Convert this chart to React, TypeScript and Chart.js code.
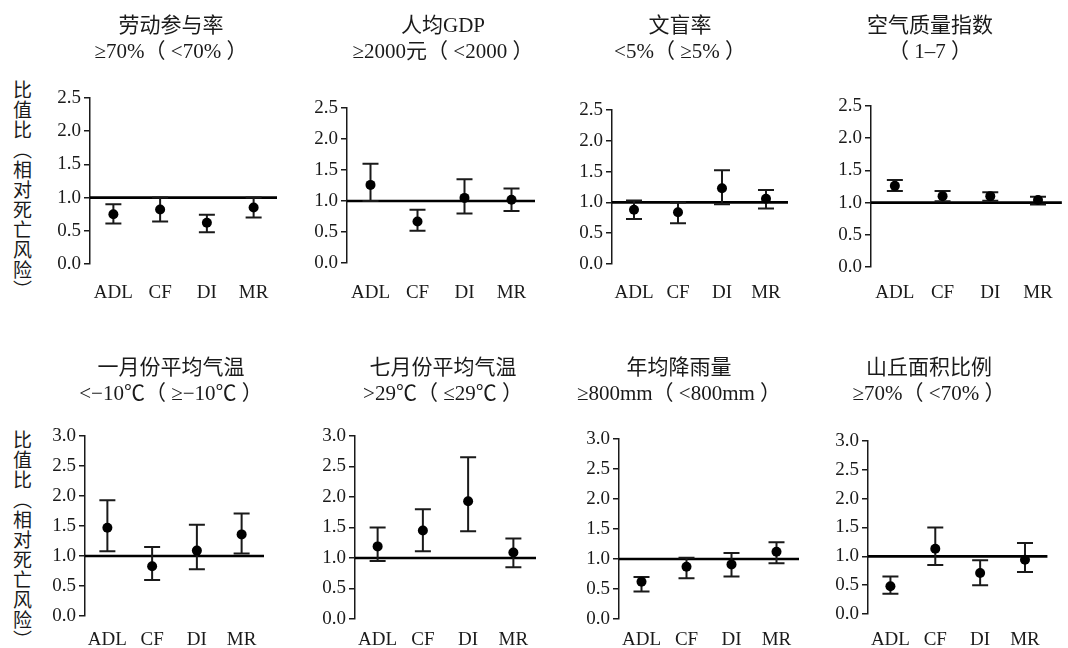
import React, { useEffect, useRef } from "react";
import { Chart, registerables } from "chart.js";

Chart.register(...registerables);

// ---------- data ----------
const CATEGORIES = ["ADL", "CF", "DI", "MR"];
const Y_LABEL = "比值比（相对死亡风险）";
const TOP_ROW_MAX = 2.5;
const BOTTOM_ROW_MAX = 3.0;
const TICK_STEP = 0.5;
const REFERENCE_VALUE = 1.0;

const laborTitle = ["劳动参与率", "≥70%（ <70% ）"];
const laborOR = [0.75, 0.82, 0.62, 0.85];
const laborLo = [0.61, 0.64, 0.48, 0.70];
const laborHi = [0.90, 1.00, 0.74, 1.00];

const gdpTitle = ["人均GDP", "≥2000元（ <2000 ）"];
const gdpOR = [1.26, 0.67, 1.05, 1.02];
const gdpLo = [1.00, 0.52, 0.80, 0.84];
const gdpHi = [1.60, 0.86, 1.35, 1.20];

const illiteracyTitle = ["文盲率", "<5%（ ≥5% ）"];
const illiteracyOR = [0.88, 0.84, 1.23, 1.06];
const illiteracyLo = [0.73, 0.66, 0.97, 0.90];
const illiteracyHi = [1.03, 1.00, 1.52, 1.20];

const airTitle = ["空气质量指数", "（ 1–7 ）"];
const airOR = [1.26, 1.10, 1.10, 1.04];
const airLo = [1.18, 1.02, 1.03, 0.97];
const airHi = [1.35, 1.18, 1.16, 1.09];

const janTitle = ["一月份平均气温", "<−10℃（ ≥−10℃ ）"];
const janOR = [1.47, 0.83, 1.09, 1.36];
const janLo = [1.08, 0.60, 0.78, 1.04];
const janHi = [1.93, 1.15, 1.52, 1.71];

const julTitle = ["七月份平均气温", ">29℃（ ≤29℃ ）"];
const julOR = [1.19, 1.45, 1.93, 1.09];
const julLo = [0.95, 1.11, 1.44, 0.85];
const julHi = [1.50, 1.80, 2.65, 1.32];

const rainTitle = ["年均降雨量", "≥800mm（ <800mm ）"];
const rainOR = [0.62, 0.87, 0.91, 1.12];
const rainLo = [0.46, 0.68, 0.71, 0.93];
const rainHi = [0.70, 1.02, 1.10, 1.28];

const hillTitle = ["山丘面积比例", "≥70%（ <70% ）"];
const hillOR = [0.48, 1.13, 0.71, 0.94];
const hillLo = [0.35, 0.85, 0.50, 0.73];
const hillHi = [0.65, 1.50, 0.93, 1.23];

const PANELS = [
  { title: laborTitle, or: laborOR, lo: laborLo, hi: laborHi, max: TOP_ROW_MAX },
  { title: gdpTitle, or: gdpOR, lo: gdpLo, hi: gdpHi, max: TOP_ROW_MAX },
  { title: illiteracyTitle, or: illiteracyOR, lo: illiteracyLo, hi: illiteracyHi, max: TOP_ROW_MAX },
  { title: airTitle, or: airOR, lo: airLo, hi: airHi, max: TOP_ROW_MAX },
  { title: janTitle, or: janOR, lo: janLo, hi: janHi, max: BOTTOM_ROW_MAX },
  { title: julTitle, or: julOR, lo: julLo, hi: julHi, max: BOTTOM_ROW_MAX },
  { title: rainTitle, or: rainOR, lo: rainLo, hi: rainHi, max: BOTTOM_ROW_MAX },
  { title: hillTitle, or: hillOR, lo: hillLo, hi: hillHi, max: BOTTOM_ROW_MAX },
];

// ---------- layout (pixel geometry of each panel) ----------
const LAYOUT = [
  { left: 90, right: 277, top: 98, bottom: 264, titleX: 171, rowTop: 0, title1Y: 26, labelY: 293 },
  { left: 347, right: 535, top: 108, bottom: 263, titleX: 443, rowTop: 0, title1Y: 26, labelY: 293 },
  { left: 612, right: 799, top: 110, bottom: 264, titleX: 680, rowTop: 0, title1Y: 26, labelY: 293 },
  { left: 871, right: 1068, top: 106, bottom: 267, titleX: 930, rowTop: 0, title1Y: 26, labelY: 293 },
  { left: 85, right: 264, top: 436, bottom: 616, titleX: 171, rowTop: 330, title1Y: 368, labelY: 640 },
  { left: 355, right: 536, top: 436, bottom: 619, titleX: 443, rowTop: 330, title1Y: 368, labelY: 640 },
  { left: 619, right: 804, top: 439, bottom: 619, titleX: 679, rowTop: 330, title1Y: 368, labelY: 640 },
  { left: 868, right: 1055, top: 441, bottom: 614, titleX: 929, rowTop: 330, title1Y: 368, labelY: 640 },
];

const INK = "#1a1a1a";
const SERIF = "'Liberation Serif', 'Noto Sans CJK SC', serif";
const TITLE_SIZE = 21;
const TITLE_LH = 1.25;
const TICK_SIZE = 19;
const XH = 40;
const MIN_YW = 44;

const errorBarPlugin = {
  id: "errorBars",
  beforeDatasetsDraw(chart: any) {
    const { ctx, chartArea, scales } = chart;
    const xs = scales.x;
    const ys = scales.y;
    ctx.save();
    // reference line at OR = 1
    const yRef = ys.getPixelForValue(REFERENCE_VALUE);
    ctx.strokeStyle = "#000";
    ctx.lineWidth = 2.6;
    ctx.beginPath();
    ctx.moveTo(chartArea.left, yRef);
    ctx.lineTo(chartArea.right, yRef);
    ctx.stroke();
    // 95% CI whiskers
    const ds = chart.data.datasets[0];
    ctx.strokeStyle = INK;
    ctx.lineWidth = 2;
    const cap = 8;
    for (let i = 0; i < ds.data.length; i++) {
      const x = xs.getPixelForValue(i);
      const yl = ys.getPixelForValue(ds.lower[i]);
      const yh = ys.getPixelForValue(ds.upper[i]);
      ctx.beginPath();
      ctx.moveTo(x, yl);
      ctx.lineTo(x, yh);
      ctx.moveTo(x - cap, yh);
      ctx.lineTo(x + cap, yh);
      ctx.moveTo(x - cap, yl);
      ctx.lineTo(x + cap, yl);
      ctx.stroke();
    }
    ctx.restore();
  },
};

function computeGeometry(l: any) {
  const d = l.left + l.right - 2 * l.titleX;
  const yw = Math.max(MIN_YW, d);
  const rw = yw - d; // invisible right box so the full-width title is centred where wanted
  const canvasLeft = l.left - yw;
  const width = l.right + rw - canvasLeft;
  const height = l.bottom - l.rowTop + XH;
  const lh = TITLE_SIZE * TITLE_LH;
  const padTop = l.title1Y - l.rowTop - lh / 2;
  const padBottom = l.top - l.rowTop - padTop - 2 * lh;
  const xPad = l.labelY - l.bottom - (TICK_SIZE * 1.2) / 2;
  return { yw, rw, canvasLeft, width, height, padTop, padBottom, xPad };
}

function Panel({ panel, layout }: { panel: any; layout: any }) {
  const ref = useRef<HTMLCanvasElement>(null);
  const g = computeGeometry(layout);

  useEffect(() => {
    if (!ref.current) return;
    const chart = new Chart(ref.current, {
      type: "line",
      data: {
        labels: CATEGORIES,
        datasets: [
          {
            data: panel.or,
            lower: panel.lo,
            upper: panel.hi,
            showLine: false,
            pointRadius: 5,
            pointHoverRadius: 5,
            pointBackgroundColor: "#000",
            pointBorderColor: "#000",
            pointBorderWidth: 0,
            yAxisID: "y",
          } as any,
        ],
      },
      options: {
        responsive: false,
        maintainAspectRatio: false,
        animation: false,
        events: [],
        layout: { padding: 0 },
        plugins: {
          legend: { display: false },
          tooltip: { enabled: false },
          title: {
            display: true,
            text: panel.title,
            color: INK,
            fullSize: true,
            font: { family: SERIF, size: TITLE_SIZE, lineHeight: TITLE_LH, weight: "normal" },
            padding: { top: g.padTop, bottom: g.padBottom },
          },
        },
        scales: {
          x: {
            type: "category",
            offset: true,
            grid: { display: false, drawTicks: false },
            border: { display: false },
            ticks: {
              color: INK,
              autoSkip: false,
              maxRotation: 0,
              padding: g.xPad,
              font: { family: SERIF, size: TICK_SIZE, lineHeight: 1.2 },
            },
            afterFit: (s: any) => {
              s.height = XH;
            },
          },
          y: {
            position: "left",
            min: 0,
            max: panel.max,
            grid: { drawOnChartArea: false, drawTicks: true, tickLength: 6, color: INK, lineWidth: 1.5 },
            border: { display: true, color: INK, width: 1.5 },
            ticks: {
              stepSize: TICK_STEP,
              color: INK,
              padding: 3,
              font: { family: SERIF, size: TICK_SIZE },
              callback: (v: any) => Number(v).toFixed(1),
            },
            afterFit: (s: any) => {
              s.width = g.yw;
            },
          },
          spacer: {
            type: "linear",
            position: "right",
            display: true,
            grid: { display: false, drawTicks: false, drawOnChartArea: false },
            border: { display: false },
            ticks: { display: false },
            afterFit: (s: any) => {
              s.width = g.rw;
            },
          },
        },
      } as any,
      plugins: [errorBarPlugin],
    });
    return () => chart.destroy();
  }, []);

  return (
    <canvas
      ref={ref}
      width={g.width}
      height={g.height}
      style={{
        position: "absolute",
        left: g.canvasLeft,
        top: layout.rowTop,
        width: g.width,
        height: g.height,
      }}
    />
  );
}

const yLabelStyle = (top: number): React.CSSProperties => ({
  position: "absolute",
  left: 12,
  top,
  writingMode: "vertical-rl",
  fontFamily: "'Noto Sans CJK SC', sans-serif",
  fontSize: 19,
  lineHeight: "20px",
  letterSpacing: "1px",
  color: INK,
  whiteSpace: "nowrap",
});

export default function App() {
  return (
    <div
      style={{
        position: "fixed",
        left: 0,
        top: 0,
        width: 1068,
        height: 648,
        overflow: "hidden",
        background: "#fff",
      }}
    >
      <div style={yLabelStyle(80)}>{Y_LABEL}</div>
      <div style={yLabelStyle(430)}>{Y_LABEL}</div>
      {PANELS.map((p, i) => (
        <Panel key={i} panel={p} layout={LAYOUT[i]} />
      ))}
    </div>
  );
}
